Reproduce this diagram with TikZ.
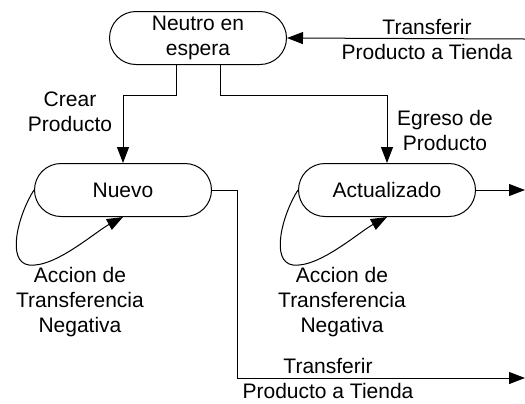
\documentclass[tikz,border=0pt]{standalone}
\usepackage{fontspec}
\setmainfont{Liberation Sans}
\usetikzlibrary{shapes.misc, arrows.meta}

\begin{document}
\begin{tikzpicture}[x=0.5pt, y=-0.5pt,
    estado/.style={draw, rounded rectangle, minimum width=88.5pt, minimum height=26.5pt, align=center, inner sep=0pt},
    etiqueta/.style={align=center},
    flecha/.style={-{Triangle[length=8pt,width=6pt]}},
    every path/.style={line width=0.5pt},
    font=\fontsize{10.5}{12.5}\selectfont]

    \useasboundingbox (0,0) rectangle (525,403);

    \node[estado] (Neutro) at (198,38) {Neutro en\\espera};
    \node[estado] (Nuevo) at (123,190) {Nuevo};
    \node[estado] (Actual) at (387,190) {Actualizado};

    \coordinate (T) at (525,39);
    \coordinate (E) at (525,190);
    \coordinate (S) at (525,378);

    \draw[flecha] (T) -- (Neutro.east);
    \draw[flecha] ([xshift=-11pt]Neutro.south) -- ++(0,30) -| (Nuevo.north);
    \draw[flecha] ([xshift=11pt]Neutro.south) -- ++(0,30) -| (Actual.north);
    \draw[flecha] (Actual.east) -- (E);
    \draw[flecha] (Nuevo.east) -- ++(25,0) |- (S);

    % lazos
    \draw[flecha] (Nuevo.west) .. controls (18,215) and (6,262) .. (29,265)
        .. controls (55,268) and (95,232) .. (Nuevo.south);
    \draw[flecha] (Actual.west) .. controls (282,215) and (270,262) .. (293,265)
        .. controls (319,268) and (359,232) .. (Actual.south);

    \node[etiqueta] (LT) at (427,39) {Transferir\\Producto a Tienda};
    \node[etiqueta] (LC) at (70,112) {Crear\\Producto};
    \node[etiqueta] (LE) at (445,130) {Egreso de\\Producto};
    \node[etiqueta] (LA) at (80,302) {Accion de\\Transferencia\\Negativa};
    \node[etiqueta] (LB) at (342,302) {Accion de\\Transferencia\\Negativa};
    \node[etiqueta] (LS) at (328,378) {Transferir\\Producto a Tienda};

\end{tikzpicture}
\end{document}
